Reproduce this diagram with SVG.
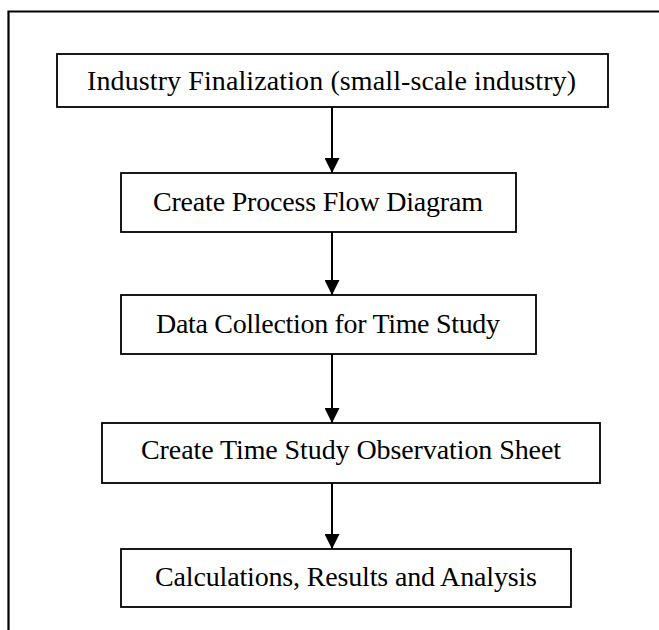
<svg xmlns="http://www.w3.org/2000/svg" width="659" height="630" viewBox="0 0 659 630">
<defs>
<style>
.box{fill:#fff;stroke:#000;stroke-width:1.8}
.lbl{font-family:"Liberation Serif","Times New Roman",serif;font-size:28px;fill:#000;text-anchor:middle}
.edge{stroke:#000;stroke-width:2;fill:none}
</style>
<marker id="ah" viewBox="0 0 15 15" refX="15" refY="7.5" markerWidth="15" markerHeight="15" markerUnits="userSpaceOnUse" orient="auto">
<path d="M0,0 L15,7.5 L0,15 Z" fill="#000"/>
</marker>
</defs>
<rect width="659" height="630" fill="#fff"/>
<path d="M8.5,630 V11.5 H659" fill="none" stroke="#000" stroke-width="2.2"/>
<g id="connectors">
<line class="edge" x1="332" y1="107" x2="332" y2="173" marker-end="url(#ah)"/>
<line class="edge" x1="332" y1="232" x2="332" y2="295" marker-end="url(#ah)"/>
<line class="edge" x1="332" y1="354" x2="332" y2="423" marker-end="url(#ah)"/>
<line class="edge" x1="332" y1="483" x2="332" y2="549" marker-end="url(#ah)"/>
</g>
<g id="n1">
<rect class="box" x="57" y="54" width="551" height="53"/>
<text class="lbl" x="331.5" y="90" textLength="489">Industry Finalization (small-scale industry)</text>
</g>
<g id="n2">
<rect class="box" x="121" y="173" width="395" height="59"/>
<text class="lbl" x="318" y="211" textLength="330">Create Process Flow Diagram</text>
</g>
<g id="n3">
<rect class="box" x="121" y="295" width="415" height="59"/>
<text class="lbl" x="328" y="333" textLength="344">Data Collection for Time Study</text>
</g>
<g id="n4">
<rect class="box" x="102" y="423" width="498" height="60"/>
<text class="lbl" x="351" y="459" textLength="420">Create Time Study Observation Sheet</text>
</g>
<g id="n5">
<rect class="box" x="121" y="549" width="450" height="58"/>
<text class="lbl" x="346" y="586" textLength="382">Calculations, Results and Analysis</text>
</g>
</svg>
